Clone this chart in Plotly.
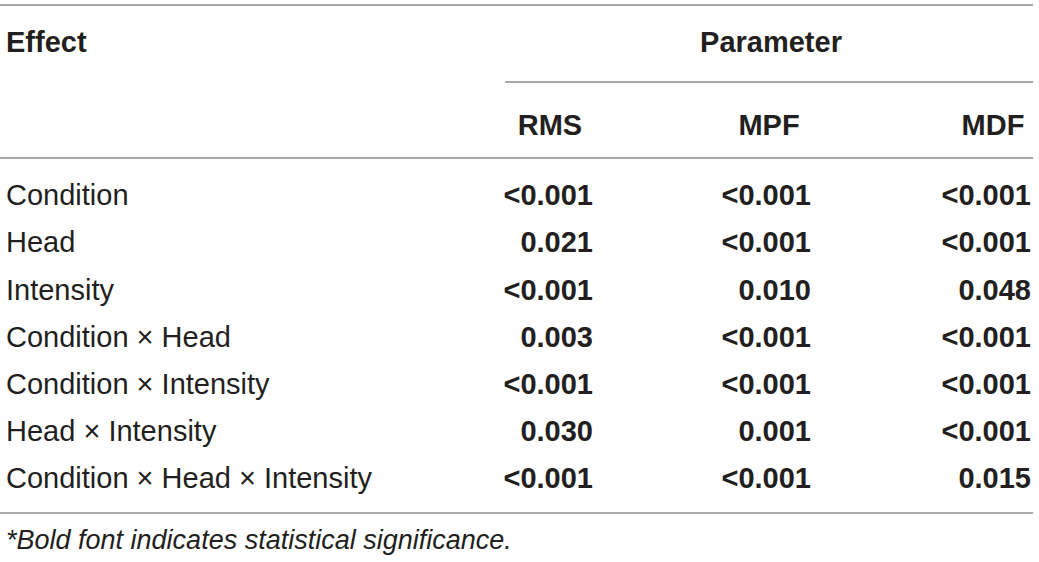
"""
Table: p-values of effects on EMG parameters, drawn with Plotly.
"""
import plotly.graph_objects as go

# ---- data -------------------------------------------------------------
effects = [
    "Condition",
    "Head",
    "Intensity",
    "Condition × Head",
    "Condition × Intensity",
    "Head × Intensity",
    "Condition × Head × Intensity",
]
parameters = ["RMS", "MPF", "MDF"]
rms = ["<0.001", "0.021", "<0.001", "0.003", "<0.001", "0.030", "<0.001"]
mpf = ["<0.001", "<0.001", "0.010", "<0.001", "<0.001", "0.001", "<0.001"]
mdf = ["<0.001", "<0.001", "0.048", "<0.001", "<0.001", "<0.001", "0.015"]
footnote = "*Bold font indicates statistical significance."

# ---- layout (pixel grid of the page) ----------------------------------
W, H = 1039, 562
TEXT = "#231f20"
RULE = "#8c8c8c"
FONT = "Liberation Sans, Arial, Helvetica, sans-serif"
SIZE = 29
DY = 3             # plotly's "middle" sits a touch high for this font

left_x = 6
value_right = [593, 811, 1031]     # right edge of each value column
header_center = [550, 769, 993]
first_row_y = 195 + DY
row_step = 47.2
row_y = [first_row_y + i * row_step for i in range(len(effects))]

fig = go.Figure()

# effect names
fig.add_trace(go.Scatter(
    x=[left_x] * len(effects), y=row_y, text=effects,
    mode="text", textposition="middle right", cliponaxis=False,
    textfont=dict(family=FONT, size=SIZE, color=TEXT),
    hoverinfo="skip",
))

# p-values, right aligned
for col, xr in zip([rms, mpf, mdf], value_right):
    fig.add_trace(go.Scatter(
        x=[xr] * len(col), y=row_y,
        text=[v.replace("<", "&lt;") for v in col],
        mode="text", textposition="middle left", cliponaxis=False,
        textfont=dict(family=FONT, size=SIZE, color=TEXT, weight="bold"),
        hoverinfo="skip",
    ))

# column headers
fig.add_trace(go.Scatter(
    x=header_center, y=[125 + DY] * len(parameters), text=parameters,
    mode="text", textposition="middle center", cliponaxis=False,
    textfont=dict(family=FONT, size=SIZE, color=TEXT, weight="bold"),
    hoverinfo="skip",
))
fig.add_trace(go.Scatter(
    x=[left_x, 771], y=[42 + DY, 42 + DY], text=["Effect", "Parameter"],
    mode="text", textposition=["middle right", "middle center"],
    cliponaxis=False,
    textfont=dict(family=FONT, size=SIZE, color=TEXT, weight="bold"),
    hoverinfo="skip",
))

# footnote
fig.add_trace(go.Scatter(
    x=[left_x], y=[539 + DY], text=[footnote],
    mode="text", textposition="middle right", cliponaxis=False,
    textfont=dict(family=FONT, size=27, color=TEXT, style="italic"),
    hoverinfo="skip",
))

# horizontal rules
rules = [(0, 1033, 5), (505, 1033, 82), (0, 1033, 158), (0, 1033, 513)]
for x0, x1, y in rules:
    fig.add_shape(type="line", x0=x0, x1=x1, y0=y, y1=y,
                  xref="x", yref="y", line=dict(color=RULE, width=1.5))

fig.update_layout(
    width=W, height=H,
    margin=dict(l=0, r=0, t=0, b=0),
    paper_bgcolor="white", plot_bgcolor="white",
    showlegend=False,
    xaxis=dict(range=[0, W], visible=False, fixedrange=True),
    yaxis=dict(range=[H, 0], visible=False, fixedrange=True),
)

# drop the browser's default body margin so the table sits at the page corner
fig.write_html(
    "out.html",
    config={"displayModeBar": False},
    post_script="document.body.style.margin='0';document.body.style.overflow='hidden';",
)
